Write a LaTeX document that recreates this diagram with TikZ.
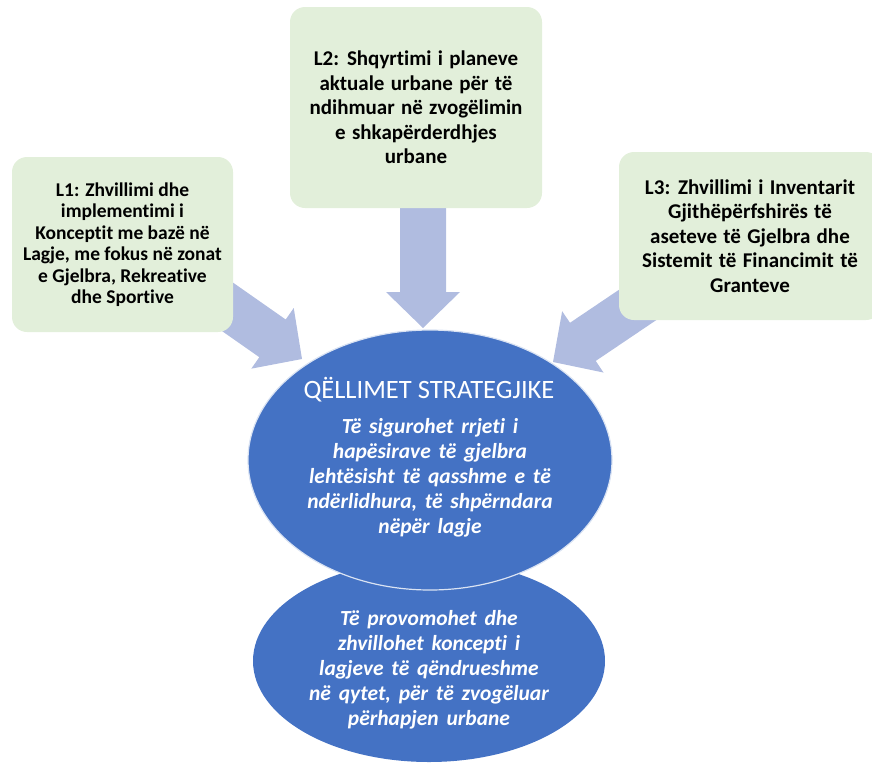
\documentclass[tikz,border=0pt]{standalone}
\usepackage{fontspec}
\setmainfont{Carlito}[Ligatures=NoCommon]
\usetikzlibrary{shapes.geometric}
\definecolor{boxgreen}{RGB}{226,239,218}
\definecolor{arrowblue}{RGB}{176,188,224}
\definecolor{ellblue}{RGB}{68,114,196}
\newcommand{\blockarrow}[3]{%
  \fill[arrowblue, shift={(#1)}, rotate=#2] (0,0) -- (-36,-37) -- (-36,-23) -- (-#3,-23) -- (-#3,23) -- (-36,23) -- (-36,37) -- cycle;}
\newcommand{\goalfont}{\fontsize{21.5}{25}\selectfont\bfseries\itshape\spaceskip=0.36em\relax}
\newcommand{\boxfontA}{\fontsize{19.5}{21.5}\selectfont\bfseries}
\newcommand{\boxfontB}{\fontsize{21}{24.5}\selectfont\bfseries\spaceskip=0.3em\relax}
\begin{document}
\begin{tikzpicture}[x=1pt,y=-1pt,
  greenbox/.style={fill=boxgreen, draw=none, rounded corners=15pt, inner sep=0pt, align=center},
  goal/.style={ellipse, fill=ellblue, inner sep=0pt},
  goaltext/.style={text=white, align=center, inner sep=0pt, font=\goalfont}]
\useasboundingbox (0,0) rectangle (872,763);
% goals
\node[goal, minimum width=352pt, minimum height=202pt] (g2) at (429,661) {};
\node[goal, draw=white!80!ellblue, line width=1.2pt, minimum width=364pt, minimum height=260pt] (g1) at (430,460) {};
\node[text=white, inner sep=0pt, anchor=base, font=\fontsize{26.5}{30}\selectfont] (title) at (429,398) {QËLLIMET STRATEGJIKE};
\node[goaltext] (g1t) at (430,478) {Të sigurohet rrjeti i\\hapësirave të gjelbra\\lehtësisht të qasshme e të\\ndërlidhura, të shpërndara\\nëpër lagje};
\node[goaltext] (g2t) at (429,670) {Të provomohet dhe\\zhvillohet koncepti i\\lagjeve të qëndrueshme\\në qytet, për të zvogëluar\\përhapjen urbane};
% arrows
\coordinate (t1) at (302,359);
\coordinate (t2) at (423,328);
\coordinate (t3) at (553,362);
\blockarrow{t1}{-35}{110}
\blockarrow{t2}{-90}{130}
\blockarrow{t3}{-146}{130}
% boxes
\node[greenbox, minimum width=221pt, minimum height=175pt, font=\boxfontA] (L1) at (122.5,244.5)
  {L1: Zhvillimi dhe\\implementimi i\\Konceptit me bazë në\\Lagje, me fokus në zonat\\e Gjelbra, Rekreative\\dhe Sportive};
\node[greenbox, minimum width=252pt, minimum height=201pt, font=\boxfontB] (L2) at (416,107.5)
  {L2: Shqyrtimi i planeve\\aktuale urbane për të\\ndihmuar në zvogëlimin\\e shkapërderdhjes\\urbane};
\node[greenbox, minimum width=262pt, minimum height=168pt, font=\boxfontB] (L3) at (750,236)
  {L3: Zhvillimi i Inventarit\\Gjithëpërfshirës të\\aseteve të Gjelbra dhe\\Sistemit të Financimit të\\Granteve};
\end{tikzpicture}
\end{document}
